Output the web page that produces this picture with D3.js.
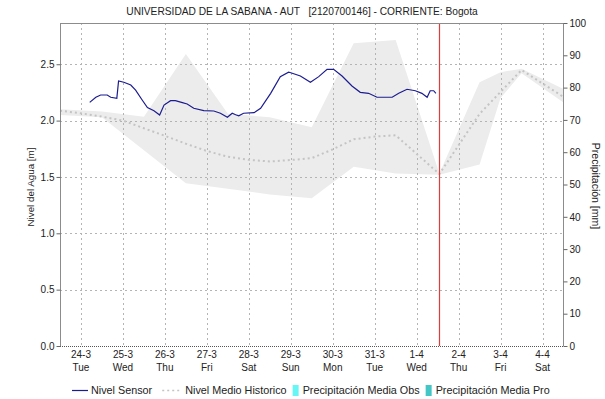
<!DOCTYPE html>
<html>
<head>
<meta charset="utf-8">
<script src="https://cdn.jsdelivr.net/npm/d3@7"></script>
<style>
  html, body { margin: 0; padding: 0; background: #fff; }
  svg { display: block; font-family: "Liberation Sans", Arial, sans-serif; }
</style>
</head>
<body>
<svg id="chart" width="605" height="399"></svg>
<script>
// Water level at the station (m)
const sensorSeries = [
  ["2020-03-24 05:00", 2.162], ["2020-03-24 08:30", 2.207], ["2020-03-24 11:15", 2.227],
  ["2020-03-24 15:00", 2.227], ["2020-03-24 17:00", 2.207], ["2020-03-24 20:30", 2.197],
  ["2020-03-24 21:30", 2.351], ["2020-03-25 00:30", 2.340], ["2020-03-25 04:30", 2.316],
  ["2020-03-25 07:15", 2.270], ["2020-03-25 11:00", 2.183], ["2020-03-25 14:00", 2.115],
  ["2020-03-25 17:45", 2.088], ["2020-03-25 21:00", 2.050], ["2020-03-25 23:30", 2.138],
  ["2020-03-26 03:15", 2.177], ["2020-03-26 06:00", 2.177], ["2020-03-26 10:00", 2.159],
  ["2020-03-26 12:45", 2.147], ["2020-03-26 16:30", 2.109], ["2020-03-26 22:15", 2.088],
  ["2020-03-27 04:00", 2.085], ["2020-03-27 07:45", 2.065], ["2020-03-27 11:45", 2.029],
  ["2020-03-27 14:30", 2.065], ["2020-03-27 16:30", 2.052], ["2020-03-27 18:15", 2.043],
  ["2020-03-27 21:00", 2.065], ["2020-03-28 03:00", 2.070], ["2020-03-28 06:45", 2.109],
  ["2020-03-28 12:30", 2.242], ["2020-03-28 18:00", 2.390], ["2020-03-28 22:45", 2.430],
  ["2020-03-29 00:00", 2.425], ["2020-03-29 05:30", 2.396], ["2020-03-29 11:15", 2.340],
  ["2020-03-29 16:00", 2.390], ["2020-03-29 20:45", 2.455], ["2020-03-30 00:30", 2.455],
  ["2020-03-30 05:20", 2.396], ["2020-03-30 11:00", 2.307], ["2020-03-30 15:45", 2.251],
  ["2020-03-30 20:30", 2.242], ["2020-03-31 01:20", 2.207], ["2020-03-31 10:00", 2.207],
  ["2020-03-31 13:45", 2.242], ["2020-03-31 18:30", 2.278], ["2020-03-31 23:15", 2.265],
  ["2020-04-01 03:00", 2.242], ["2020-04-01 06:00", 2.207], ["2020-04-01 07:45", 2.265],
  ["2020-04-01 09:45", 2.265], ["2020-04-01 11:00", 2.242]
];

// Historical mean level (m)
const historicMean = [
  ["2020-03-23 12:00", 2.088], ["2020-03-24 00:00", 2.065], ["2020-03-24 12:00", 2.035],
  ["2020-03-25 00:00", 2.000], ["2020-03-25 12:00", 1.932], ["2020-03-26 00:00", 1.865],
  ["2020-03-26 12:00", 1.795], ["2020-03-27 00:00", 1.730], ["2020-03-27 12:00", 1.680],
  ["2020-03-28 00:00", 1.652], ["2020-03-28 12:00", 1.637], ["2020-03-29 00:00", 1.650],
  ["2020-03-29 12:00", 1.667], ["2020-03-30 00:00", 1.745], ["2020-03-30 12:00", 1.834],
  ["2020-03-31 00:00", 1.858], ["2020-03-31 12:00", 1.870], ["2020-04-01 13:00", 1.526],
  ["2020-04-02 12:00", 2.060], ["2020-04-03 12:00", 2.449], ["2020-04-04 12:00", 2.210]
];

// Historical range band: [time, low, high] (m)
const historicRange = [
  ["2020-03-23 12:00", 2.050, 2.100], ["2020-03-24 12:00", 2.030, 2.080],
  ["2020-03-25 12:00", 1.737, 2.035], ["2020-03-26 12:00", 1.443, 2.590],
  ["2020-03-27 12:00", 1.395, 2.060], ["2020-03-28 12:00", 1.345, 2.030],
  ["2020-03-29 12:00", 1.310, 1.940], ["2020-03-30 12:00", 1.590, 2.686],
  ["2020-03-31 12:00", 1.530, 2.715], ["2020-04-01 13:00", 1.520, 1.530],
  ["2020-04-02 12:00", 1.610, 2.340], ["2020-04-03 00:00", 2.200, 2.430],
  ["2020-04-03 12:00", 2.420, 2.460], ["2020-04-04 12:00", 2.160, 2.280]
];

// Current time marker
const nowMarker = "2020-04-01 13:00";

// Axis ticks
const levelTicks = [0, 0.5, 1.0, 1.5, 2.0, 2.5];
const rainTicks = [0, 10, 20, 30, 40, 50, 60, 70, 80, 90, 100];
const dayTicks = ["2020-03-24", "2020-03-25", "2020-03-26", "2020-03-27", "2020-03-28", "2020-03-29",
                  "2020-03-30", "2020-03-31", "2020-04-01", "2020-04-02", "2020-04-03", "2020-04-04"];
const dayNames = ["Sun", "Mon", "Tue", "Wed", "Thu", "Fri", "Sat"];

const legendItems = [
  { label: "Nivel Sensor", kind: "line" },
  { label: "Nivel Medio Historico", kind: "dots" },
  { label: "Precipitación Media Obs", kind: "box", color: "#66f6f6" },
  { label: "Precipitación Media Pro", kind: "box", color: "#45c6c6" }
];

const parseT = d3.timeParse("%Y-%m-%d %H:%M");
const parseD = d3.timeParse("%Y-%m-%d");

const svg = d3.select("#chart");
const plot = { left: 60, right: 563.5, top: 23, bottom: 346 };

const x = d3.scaleTime()
  .domain([parseT("2020-03-23 12:00"), parseT("2020-04-04 12:00")])
  .range([plot.left, plot.right]);
const yL = d3.scaleLinear().domain([0, 2.866]).range([plot.bottom, plot.top]);
const yR = d3.scaleLinear().domain([0, 100]).range([plot.bottom, plot.top]);

// Historical range band
svg.append("path")
  .datum(historicRange)
  .attr("fill", "#ececec")
  .attr("d", d3.area()
    .x(d => x(parseT(d[0])))
    .y0(d => yL(d[1]))
    .y1(d => yL(d[2])));

// Grid
const grid = svg.append("g").attr("stroke", "#b4b4b4").attr("stroke-dasharray", "2,3").attr("stroke-width", 1);
levelTicks.filter(v => v > 0).forEach(v => {
  grid.append("line").attr("x1", plot.left).attr("x2", plot.right)
    .attr("y1", Math.round(yL(v)) + 0.5).attr("y2", Math.round(yL(v)) + 0.5);
});
dayTicks.forEach(t => {
  const xx = Math.round(x(parseD(t))) + 0.5;
  grid.append("line").attr("x1", xx).attr("x2", xx).attr("y1", plot.top).attr("y2", plot.bottom);
});

// Historical mean
svg.append("path")
  .datum(historicMean)
  .attr("fill", "none")
  .attr("stroke", "#c4c4c4")
  .attr("stroke-width", 2)
  .attr("stroke-dasharray", "2,3")
  .attr("d", d3.line().x(d => x(parseT(d[0]))).y(d => yL(d[1])));

// Sensor level
svg.append("path")
  .datum(sensorSeries)
  .attr("fill", "none")
  .attr("stroke", "#1c1c90")
  .attr("stroke-width", 1.2)
  .attr("d", d3.line().x(d => x(parseT(d[0]))).y(d => yL(d[1])));

// Now marker
const nx = Math.round(x(parseT(nowMarker))) + 0.5;
svg.append("line").attr("x1", nx).attr("x2", nx).attr("y1", plot.top).attr("y2", plot.bottom)
  .style("stroke", "rgb(224, 60, 60)").attr("stroke-width", 1.2);

// Frame
const frame = svg.append("g").attr("stroke", "#8c8c8c").attr("stroke-width", 1).attr("fill", "none");
frame.append("line").attr("x1", plot.left + 0.5).attr("x2", plot.left + 0.5).attr("y1", plot.top).attr("y2", plot.bottom);
frame.append("line").attr("x1", plot.right).attr("x2", plot.right).attr("y1", plot.top).attr("y2", plot.bottom);
frame.append("line").attr("x1", plot.left).attr("x2", plot.right).attr("y1", plot.top + 0.5).attr("y2", plot.top + 0.5);
svg.append("line").attr("x1", plot.left).attr("x2", plot.right).attr("y1", plot.bottom + 0.5).attr("y2", plot.bottom + 0.5)
  .attr("stroke", "#555").attr("stroke-dasharray", "1,1");

// Left axis
const axL = svg.append("g").attr("transform", `translate(${plot.left + 0.5},0)`)
  .call(d3.axisLeft(yL).tickValues(levelTicks).tickFormat(d3.format(".1f")).tickSize(4).tickPadding(2));
axL.select(".domain").remove();
axL.selectAll("line").attr("stroke", "#666");
axL.selectAll("text").attr("font-size", 10).attr("fill", "#222")
  .attr("font-family", "Liberation Sans, Arial, sans-serif");

// Right axis
const axR = svg.append("g").attr("transform", `translate(${plot.right},0)`)
  .call(d3.axisRight(yR).tickValues(rainTicks).tickSize(4).tickPadding(2));
axR.select(".domain").remove();
axR.selectAll("line").attr("stroke", "#666");
axR.selectAll("text").attr("font-size", 10).attr("fill", "#222")
  .attr("font-family", "Liberation Sans, Arial, sans-serif");

// Day labels
const dayLabels = svg.append("g").attr("font-size", 10).attr("fill", "#222").attr("text-anchor", "middle");
dayTicks.forEach(t => {
  const d = parseD(t);
  const xx = x(d);
  dayLabels.append("text").attr("x", xx).attr("y", 358).text(`${d.getDate()}-${d.getMonth() + 1}`);
  dayLabels.append("text").attr("x", xx).attr("y", 371).text(dayNames[d.getDay()]);
});

// Title and axis titles
svg.append("text").attr("x", 302).attr("y", 15).attr("text-anchor", "middle")
  .attr("font-size", 10.2).attr("fill", "#222")
  .attr("xml:space", "preserve")
  .text("UNIVERSIDAD DE LA SABANA - AUT   [2120700146] - CORRIENTE: Bogota");
svg.append("text").attr("transform", "translate(34,187) rotate(-90)").attr("text-anchor", "middle")
  .attr("font-size", 9.8).attr("fill", "#222").text("Nivel del Agua [m]");
svg.append("text").attr("transform", "translate(592,186) rotate(90)").attr("text-anchor", "middle")
  .attr("font-size", 10.5).attr("fill", "#222").text("Precipitación [mm]");

// Legend
const legend = svg.append("g").attr("font-size", 10.8).attr("fill", "#222");
let lx = 72;
const ly = 394;
legendItems.forEach(item => {
  if (item.kind === "line") {
    legend.append("line").attr("x1", lx).attr("x2", lx + 16).attr("y1", ly - 3.5).attr("y2", ly - 3.5)
      .attr("stroke", "#1c1c90").attr("stroke-width", 1.2);
    lx += 19;
  } else if (item.kind === "dots") {
    legend.append("line").attr("x1", lx).attr("x2", lx + 18).attr("y1", ly - 3.5).attr("y2", ly - 3.5)
      .attr("stroke", "#c4c4c4").attr("stroke-width", 1.5).attr("stroke-dasharray", "2,3");
    lx += 23;
  } else {
    legend.append("rect").attr("x", lx).attr("y", ly - 9).attr("width", 6).attr("height", 11)
      .attr("fill", item.color);
    lx += 10;
  }
  const t = legend.append("text").attr("x", lx).attr("y", ly).text(item.label);
  lx += t.node().getComputedTextLength() + (item.kind === "line" ? 10 : 6);
});
</script>
</body>
</html>
